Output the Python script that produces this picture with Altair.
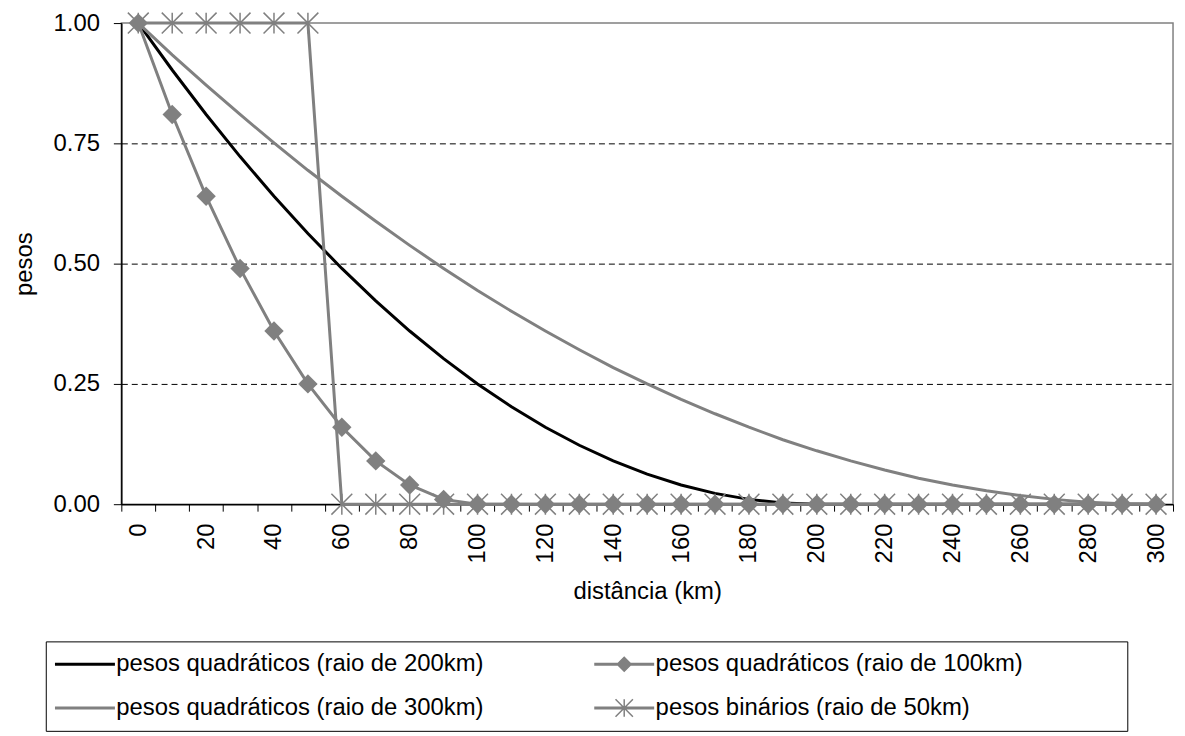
import altair as alt
import pandas as pd

# ---------------- data ----------------
distances = [0, 10, 20, 30, 40, 50, 60, 70, 80, 90, 100, 110, 120, 130, 140, 150,
             160, 170, 180, 190, 200, 210, 220, 230, 240, 250, 260, 270, 280, 290, 300]

w200 = [1.0, 0.9025, 0.81, 0.7225, 0.64, 0.5625, 0.49, 0.4225, 0.36, 0.3025, 0.25,
        0.2025, 0.16, 0.1225, 0.09, 0.0625, 0.04, 0.0225, 0.01, 0.0025, 0.0,
        0.0, 0.0, 0.0, 0.0, 0.0, 0.0, 0.0, 0.0, 0.0, 0.0]
w100 = [1.0, 0.81, 0.64, 0.49, 0.36, 0.25, 0.16, 0.09, 0.04, 0.01, 0.0,
        0.0, 0.0, 0.0, 0.0, 0.0, 0.0, 0.0, 0.0, 0.0, 0.0,
        0.0, 0.0, 0.0, 0.0, 0.0, 0.0, 0.0, 0.0, 0.0, 0.0]
w300 = [1.0, 0.934, 0.871, 0.81, 0.751, 0.694, 0.64, 0.588, 0.538, 0.49, 0.444,
        0.401, 0.36, 0.321, 0.284, 0.25, 0.218, 0.188, 0.16, 0.134, 0.111,
        0.09, 0.071, 0.054, 0.04, 0.028, 0.018, 0.01, 0.004, 0.001, 0.0]
wbin = [1, 1, 1, 1, 1, 1, 0, 0, 0, 0, 0,
        0, 0, 0, 0, 0, 0, 0, 0, 0, 0,
        0, 0, 0, 0, 0, 0, 0, 0, 0, 0]

series_names = ["pesos quadráticos (raio de 200km)",
                "pesos quadráticos (raio de 100km)",
                "pesos quadráticos (raio de 300km)",
                "pesos binários (raio de 50km)"]
series_values = [w200, w100, w300, wbin]

y_ticks = [0, 0.25, 0.5, 0.75, 1.0]

rows = []
for name, vals in zip(series_names, series_values):
    for d, w in zip(distances, vals):
        rows.append({"d": d, "w": w, "series": name})
df = pd.DataFrame(rows)

# ---------------- styles ----------------
BLACK = "#000000"
GRAY = "#808080"
FONT = "Liberation Sans"
FS = 24

STAR = "M0,-1L0,1M-1,-1L1,1M-1,1L1,-1"
# legend symbols (path units scaled by sqrt(symbolSize)/2 = 7px)
LINE_RECT = "M-4.2,-0.1L4.2,-0.1L4.2,0.1L-4.2,0.1Z"
EXTEND = "M70.2,0"  # widens the legend's second column to the boxed width
LEG_PLAIN = LINE_RECT
LEG_DIAMOND = LINE_RECT + "M-1,0L0,-1L1,0L0,1Z" + EXTEND
LEG_STAR = LINE_RECT + "M0,-1.25L0,1.25M-1.25,-1.25L1.25,1.25M-1.25,1.25L1.25,-1.25" + EXTEND

line_colors = [BLACK, GRAY, GRAY, GRAY]

# legend is laid out column-wise: 200km, 300km | 100km, 50km
legend_order = [series_names[0], series_names[2], series_names[1], series_names[3]]
legend_colors = [BLACK, GRAY, GRAY, GRAY]
legend_shapes = [LEG_PLAIN, LEG_PLAIN, LEG_DIAMOND, LEG_STAR]

xaxis = alt.Axis(
    title="distância (km)", labelAngle=-90,
    labelExpr="datum.value % 20 == 0 ? datum.label : ''",
    tickBand="extent", tickSize=7, tickColor=BLACK, tickWidth=1,
    domainColor=BLACK, domainWidth=1.5, labelPadding=12,
    labelFontSize=FS, titleFontSize=FS, titleFontWeight="normal",
    titlePadding=17, grid=False, labelColor=BLACK, titleColor=BLACK,
    labelAlign="right", labelBaseline="middle",
)
yaxis = alt.Axis(
    title="pesos", values=y_ticks, format=".2f",
    grid=True, gridColor=BLACK, gridDash=[6, 4], gridWidth=1,
    gridOpacity={"condition": {"test": "datum.value == 0 || datum.value == 1", "value": 0}, "value": 1},
    tickSize=8, tickColor=BLACK, domainColor=BLACK, domainWidth=1.5,
    labelPadding=14, labelFontSize=FS, titleFontSize=FS, titleFontWeight="normal",
    titlePadding=17, labelColor=BLACK, titleColor=BLACK,
)

xenc = alt.X("d:O", scale=alt.Scale(type="band", domain=distances, paddingInner=0, paddingOuter=0),
             bandPosition=0.5, axis=xaxis)
yenc = alt.Y("w:Q", scale=alt.Scale(domain=[0, 1], nice=False, zero=False), axis=yaxis)

base = alt.Chart(df)

layers = []
for name, col in zip(series_names, line_colors):
    layers.append(
        base.transform_filter(alt.datum.series == name)
        .mark_line(color=col, strokeWidth=3)
        .encode(x=xenc, y=yenc)
    )

diamonds = (
    base.transform_filter(alt.datum.series == series_names[1])
    .mark_point(shape="diamond", filled=True, size=380, color=GRAY, opacity=1)
    .encode(x=xenc, y=yenc)
)
stars = (
    base.transform_filter(alt.datum.series == series_names[3])
    .mark_point(shape=STAR, filled=False, size=441, color=GRAY, strokeWidth=1.5, opacity=1)
    .encode(x=xenc, y=yenc)
)
layers += [stars, diamonds]

leg = alt.Legend(
    title=None, orient="none", legendX=-76, legendY=622, columns=2,
    columnPadding=107.5, rowPadding=20, padding=11, strokeColor=BLACK,
    fillColor="white", symbolSize=196, symbolStrokeWidth=1.5,
    symbolOffset=16.4, labelOffset=19.6, labelFontSize=FS, labelFont=FONT,
    labelLimit=1000, labelColor=BLACK,
)

legend_layer = (
    base.transform_filter("false")
    .mark_point(filled=True, opacity=1)
    .encode(
        x=xenc, y=yenc,
        fill=alt.Fill("series:N", scale=alt.Scale(domain=legend_order, range=legend_colors), legend=leg),
        stroke=alt.Stroke("series:N", scale=alt.Scale(domain=legend_order, range=legend_colors), legend=leg),
        shape=alt.Shape("series:N", scale=alt.Scale(domain=legend_order, range=legend_shapes), legend=leg),
    )
)
layers.append(legend_layer)

chart = (
    alt.layer(*layers)
    .properties(
        width=1058, height=484,
        autosize=alt.AutoSizeParams(type="none"),
        padding={"left": 114, "top": 13, "right": 4, "bottom": 228},
    )
    .configure(font=FONT)
    .configure_view(stroke=GRAY, strokeWidth=1.5)
)

chart.save("out.html", embed_options={"renderer": "svg", "actions": False})
